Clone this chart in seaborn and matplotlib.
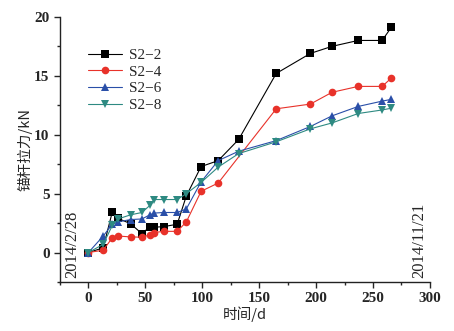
import numpy as np
import pandas as pd
import matplotlib
matplotlib.use("Agg")
import matplotlib.pyplot as plt
import seaborn as sns
from matplotlib.ticker import MultipleLocator

sns.set_style("ticks")
plt.rcParams['font.family'] = ['Liberation Serif', 'Noto Sans CJK SC']

series_names = ["S2-2", "S2-4", "S2-6", "S2-8"]

days_s22 = [0, 13, 21, 26, 37, 47, 54, 58, 66, 78, 86, 99, 114, 132, 165, 195, 214, 237, 258, 266]
vals_s22 = [0, 0.4, 3.45, 2.9, 2.45, 1.6, 2.2, 2.15, 2.2, 2.4, 4.8, 7.3, 7.8, 9.6, 15.2, 16.9, 17.5, 18.0, 18.0, 19.1]

days_s24 = [0, 13, 21, 26, 37, 47, 54, 58, 66, 78, 86, 99, 114, 165, 195, 214, 237, 258, 266]
vals_s24 = [0, 0.2, 1.25, 1.4, 1.33, 1.3, 1.5, 1.7, 1.8, 1.8, 2.6, 5.2, 5.9, 12.2, 12.6, 13.6, 14.1, 14.1, 14.8]

days_s26 = [0, 13, 21, 26, 37, 47, 54, 58, 66, 78, 86, 99, 114, 132, 165, 195, 214, 237, 258, 266]
vals_s26 = [0, 1.4, 2.4, 2.6, 2.8, 2.85, 3.2, 3.35, 3.4, 3.4, 3.7, 6.0, 7.8, 8.6, 9.5, 10.7, 11.6, 12.4, 12.85, 13.0]

days_s28 = [0, 13, 21, 26, 37, 47, 54, 58, 66, 78, 86, 99, 114, 132, 165, 195, 214, 237, 258, 266]
vals_s28 = [0, 0.7, 2.3, 2.85, 3.2, 3.4, 4.0, 4.5, 4.5, 4.5, 5.0, 5.95, 7.25, 8.4, 9.4, 10.5, 11.0, 11.8, 12.1, 12.25]

x_ticks = [0, 50, 100, 150, 200, 250, 300]
y_ticks = [0, 5, 10, 15, 20]
start_label = "2014/2/28"
end_label = "2014/11/21"

frames = []
for name, d, v in zip(series_names,
                      [days_s22, days_s24, days_s26, days_s28],
                      [vals_s22, vals_s24, vals_s26, vals_s28]):
    frames.append(pd.DataFrame({"day": d, "force": v, "series": name}))
df = pd.concat(frames, ignore_index=True)

palette = {"S2-2": "#000000", "S2-4": "#e8322a", "S2-6": "#2a4fa8", "S2-8": "#2e8a82"}
markers = {"S2-2": "s", "S2-4": "o", "S2-6": "^", "S2-8": "v"}

fig = plt.figure(figsize=(4.54, 3.31), dpi=100)
ax = fig.add_axes([0.132, 0.148, 0.815, 0.801])

sns.lineplot(data=df, x="day", y="force", hue="series", style="series",
             palette=palette, markers=markers, dashes=False, ax=ax,
             linewidth=0.8, markersize=5.5, markeredgewidth=0, sort=False,
             legend=True)

ax.set_xlim(-25, 300)
ax.set_ylim(-2.5, 20)
ax.set_xticks(x_ticks)
ax.set_yticks(y_ticks)
ax.xaxis.set_minor_locator(MultipleLocator(25))
ax.yaxis.set_minor_locator(MultipleLocator(2.5))
ax.tick_params(axis='both', which='major', direction='out', length=4, width=1, labelsize=11)
ax.tick_params(axis='both', which='minor', direction='out', length=2.5, width=1)
for lab in ax.get_xticklabels() + ax.get_yticklabels():
    lab.set_fontweight('bold')
sns.despine(ax=ax)
for s in ["left", "bottom"]:
    ax.spines[s].set_linewidth(1.0)
    ax.spines[s].set_color("#222222")

ax.set_xlabel("时间/d", fontsize=10.5, family=['Noto Sans CJK SC', 'DejaVu Sans'], labelpad=1)
ax.set_ylabel("锚杆拉力/kN", fontsize=10.5, family=['Noto Sans CJK SC', 'DejaVu Sans'], labelpad=1)

ax.text(-14, -2.2, start_label, rotation=90, ha='center', va='bottom', fontsize=12)
ax.text(291, -2.2, end_label, rotation=90, ha='center', va='bottom', fontsize=12)

leg = ax.legend(loc='upper left', bbox_to_anchor=(0.06, 0.905), frameon=False,
                fontsize=11, handlelength=2.2, handletextpad=0.5, labelspacing=0.2,
                borderaxespad=0)
leg.set_title(None)
for t in leg.get_texts():
    t.set_text(t.get_text().replace("-", "\u2212"))

fig.savefig("out.png", dpi=100, facecolor="white")
